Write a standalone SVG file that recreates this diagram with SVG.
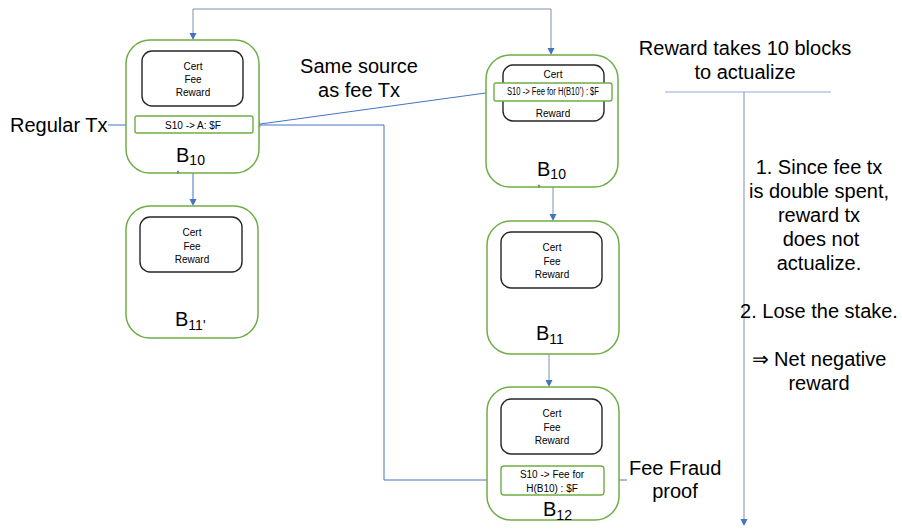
<svg xmlns="http://www.w3.org/2000/svg" width="902" height="529" viewBox="0 0 902 529">
<style>
.blk{fill:#fff;stroke:#70AD47;stroke-width:1.5}
.inner{fill:#fff;stroke:#262626;stroke-width:1.4}
.tx{fill:#fff;stroke:#70AD47;stroke-width:1.4}
.s{font-family:"Liberation Sans",Arial,sans-serif;font-size:10px;fill:#000;text-anchor:middle}
.big{font-family:"Liberation Sans",Arial,sans-serif;font-size:20px;fill:#000}
.mid{text-anchor:middle}
.c{fill:none;stroke:#4472C4;stroke-width:1}
.cg{fill:none;stroke:#7F8FB0;stroke-width:1}
.ah{fill:#4472C4;stroke:none}
</style>
<rect width="902" height="529" fill="#fff"/>

<g id="connectors">
<path class="cg" d="M193,34 V9 H551 V49"/>
<polygon class="ah" points="189.5,33 196.5,33 193,40"/>
<polygon class="ah" points="547.5,48 554.5,48 551,55"/>
<path class="c" d="M193,173 V200"/>
<polygon class="ah" points="189.5,199 196.5,199 193,206"/>
<path class="c" d="M108,125 H129"/>
<polygon class="ah" points="128,121.5 128,128.5 135,125"/>
<path class="c" d="M259,124.2 L487,92.8"/>
<polygon class="ah" points="253,125 260.41,127.52 259.46,120.58"/>
<polygon class="ah" points="493,92 486.54,96.42 485.59,89.49"/>
<path class="c" d="M253,125 H384 V480 H495"/>
<polygon class="ah" points="494,476.5 494,483.5 501,480"/>
<path class="cg" d="M553,187 V215"/>
<polygon class="ah" points="549.5,214 556.5,214 553,221"/>
<path class="cg" d="M549,354 V381"/>
<polygon class="ah" points="545.5,380 552.5,380 549,387"/>
<path class="c" d="M627,480 H610"/>
<polygon class="ah" points="611,476.5 611,483.5 604,480"/>
<path fill="none" stroke="#8FAADC" stroke-width="1" d="M665,92 H831"/>
<path class="cg" d="M744,92 V520"/>
<polygon class="ah" points="740.5,519 747.5,519 744,526"/>
</g>

<g id="B10">
<rect class="blk" x="126" y="40" width="133" height="133" rx="24"/>
<rect class="inner" x="142" y="51" width="101" height="55" rx="10"/>
<text class="s" x="193" y="70">Cert</text>
<text class="s" x="193" y="83">Fee</text>
<text class="s" x="193" y="96">Reward</text>
<rect class="tx" x="135" y="116" width="118" height="17" rx="2"/>
<text class="s" x="193" y="128.5">S10 -&gt; A: $F</text>
<text class="big" x="176" y="162">B<tspan font-size="14" dy="3">10</tspan><tspan x="176.5" y="172" font-size="10">,</tspan></text>
</g>

<g id="B11prime">
<rect class="blk" x="126" y="206" width="132" height="132" rx="24"/>
<rect class="inner" x="140" y="217" width="102" height="55" rx="10"/>
<text class="s" x="192" y="236">Cert</text>
<text class="s" x="192" y="250">Fee</text>
<text class="s" x="192" y="263">Reward</text>
<text class="big" x="175" y="326">B<tspan font-size="14" dy="4">11'</tspan></text>
</g>

<g id="B10prime">
<rect class="blk" x="486" y="55" width="132" height="132" rx="24"/>
<rect class="inner" x="503" y="65" width="101" height="56" rx="10"/>
<text class="s" x="553" y="78">Cert</text>
<rect class="tx" x="494" y="83" width="118" height="18" rx="2"/>
<text class="s" x="553" y="95" font-size="8" textLength="92" lengthAdjust="spacingAndGlyphs">S10 -&gt; Fee for H(B10’) : $F</text>
<text class="s" x="553" y="117">Reward</text>
<text class="big" x="537" y="176">B<tspan font-size="14" dy="3">10</tspan><tspan x="537.5" y="186" font-size="10">,</tspan></text>
</g>

<g id="B11">
<rect class="blk" x="487" y="221" width="132" height="133" rx="24"/>
<rect class="inner" x="501" y="232" width="101" height="56" rx="10"/>
<text class="s" x="552" y="251">Cert</text>
<text class="s" x="552" y="265">Fee</text>
<text class="s" x="552" y="278">Reward</text>
<text class="big" x="536" y="340">B<tspan font-size="14" dy="4">11</tspan></text>
</g>

<g id="B12">
<rect class="blk" x="487" y="387" width="132" height="133" rx="24"/>
<rect class="inner" x="501" y="399" width="101" height="55" rx="10"/>
<text class="s" x="552" y="417">Cert</text>
<text class="s" x="552" y="431">Fee</text>
<text class="s" x="552" y="444">Reward</text>
<rect class="tx" x="501" y="466" width="103" height="29" rx="3"/>
<text class="s" x="552" y="478">S10 -&gt; Fee for</text>
<text class="s" x="552" y="492">H(B10) : $F</text>
<text class="big" x="543" y="516">B<tspan font-size="14" dy="4">12</tspan></text>
</g>

<g id="labels">
<text class="big" x="10" y="132">Regular Tx</text>
<text class="big mid" x="359" y="73">Same source</text>
<text class="big mid" x="359" y="97">as fee Tx</text>
<text class="big" x="629" y="475">Fee Fraud</text>
<text class="big mid" x="675" y="498">proof</text>
<text class="big mid" x="745" y="55">Reward takes 10 blocks</text>
<text class="big mid" x="745" y="79">to actualize</text>
<text class="big mid" x="819" y="174">1. Since fee tx</text>
<text class="big mid" x="819" y="198">is double spent,</text>
<text class="big mid" x="819" y="222">reward tx</text>
<text class="big mid" x="821" y="246">does not</text>
<text class="big mid" x="819" y="270">actualize.</text>
<text class="big mid" x="819" y="318">2. Lose the stake.</text>
<text class="big mid" x="819" y="366">⇒ Net negative</text>
<text class="big mid" x="819" y="390">reward</text>
</g>
</svg>
